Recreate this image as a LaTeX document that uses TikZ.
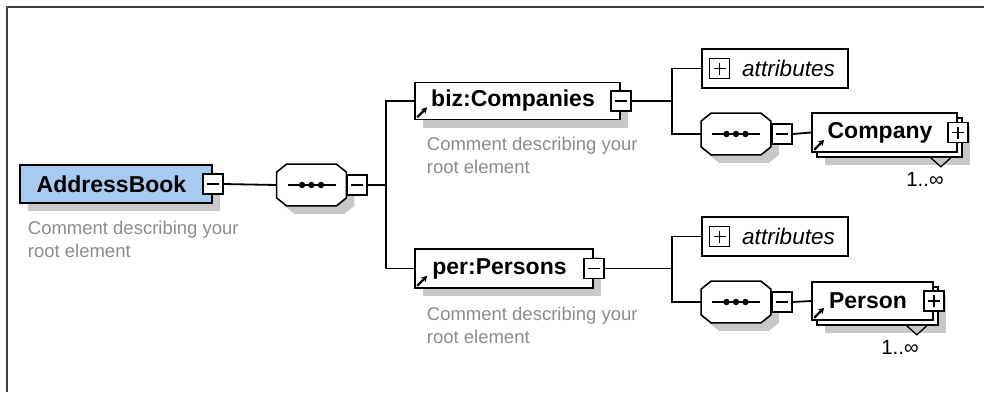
\documentclass[tikz,border=0pt]{standalone}
\usepackage{fontspec}
\setmainfont{Liberation Sans}
\usetikzlibrary{arrows.meta, shadows}
\definecolor{rootblue}{HTML}{A6CAF0}
\definecolor{cmtgray}{HTML}{8C8C8C}
\definecolor{shdgray}{HTML}{C8C8C8}
\tikzset{
  xsd/.style={x=1pt, y=-1pt, line width=1.8pt, draw=black,
              >={Stealth[length=7pt, width=7pt]}},
  elm/.style={draw=black, line width=1.6pt, fill=white, inner sep=0pt,
              minimum height=38pt,
              font=\fontsize{23}{26}\selectfont\bfseries},
  shd/.style={drop shadow={shadow xshift=8pt, shadow yshift=-8pt,
              fill=shdgray, opacity=1}},
  attbox/.style={draw=black, line width=1.6pt, fill=white, inner sep=0pt,
              minimum width=146pt, minimum height=39pt,
              font=\fontsize{22.5}{26}\selectfont\itshape},
  seqbox/.style={inner sep=0pt, minimum width=68pt, minimum height=40pt},
  seqline/.style={draw=black, line width=1.6pt, fill=white},
  seqshd/.style={fill=shdgray},
  tog/.style={draw=black, line width=1.6pt, fill=white, inner sep=0pt,
              minimum size=20pt,
              path picture={
                \draw[line width=1.4pt] ([xshift=-6pt]path picture bounding box.center)
                  -- ([xshift=6pt]path picture bounding box.center);
              }},
  togplus/.style={draw=black, line width=1.6pt, fill=white, inner sep=0pt,
              minimum size=20pt,
              path picture={
                \draw[line width=1.4pt] ([xshift=-6pt]path picture bounding box.center)
                  -- ([xshift=6pt]path picture bounding box.center);
                \draw[line width=1.4pt] ([yshift=-6pt]path picture bounding box.center)
                  -- ([yshift=6pt]path picture bounding box.center);
              }},
  cmt/.style={font=\fontsize{18.5}{23}\selectfont, text=cmtgray, align=left,
              inner sep=0pt, anchor=north west},
  occ/.style={font=\fontsize{20.5}{22}\selectfont, inner sep=0pt},
  refar/.style={-{Stealth[length=6pt, width=6.5pt]}, line width=2.3pt, draw=black},
  occmark/.style={line width=1.3pt, draw=black, fill=shdgray},
  frame/.style={line width=2.5pt, draw=black!75}
}

\begin{document}
\begin{tikzpicture}[xsd]
    \useasboundingbox (0,0) rectangle (984,392);
    \draw[frame] (984,7) -- (7,7) -- (7,392);

    % sequence compositors
    \node[seqbox] (seq1) at (311.5,185) {};
    \node[seqbox] (seq2) at (736,134) {};
    \node[seqbox] (seq3) at (736,302) {};
    \foreach \s in {seq1, seq2, seq3} {
      \foreach \o/\sty in {8/seqshd, 0/seqline}
        \path[\sty] ([shift={(10+\o,\o)}]\s.north west) -- ([shift={(-10+\o,\o)}]\s.north east)
          -- ([shift={(\o,8+\o)}]\s.north east) -- ([shift={(\o,-8+\o)}]\s.south east)
          -- ([shift={(-10+\o,\o)}]\s.south east) -- ([shift={(10+\o,\o)}]\s.south west)
          -- ([shift={(\o,-8+\o)}]\s.south west) -- ([shift={(\o,8+\o)}]\s.north west) -- cycle;
      \draw[line width=1.4pt, draw=black] ([xshift=-24pt]\s.center) -- ([xshift=24pt]\s.center);
      \foreach \d in {-9.5, 0, 9.5}
        \fill ([xshift=\d pt]\s.center) circle (3.2);
    }
    \node[tog, anchor=west] (seq1tog) at (seq1.east) {};
    \node[tog, anchor=west] (seq2tog) at (seq2.east) {};
    \node[tog, anchor=west] (seq3tog) at (seq3.east) {};

    % root element
    \node[elm, shd, fill=rootblue, minimum width=192pt] (ab) at (116,184)
         {AddressBook\hspace*{9pt}};
    \node[tog] (abtog) at (ab.east) {};
    \node[cmt] (abcmt) at (27,220) {Comment describing your\\root element};
    \coordinate (fork1) at (386,185);

    % biz:Companies
    \node[elm, shd, minimum width=205pt, minimum height=37pt] (biz) at (517.5,101)
         {biz:Companies\hspace*{9pt}};
    \node[tog] (biztog) at (biz.east) {};
    \node[cmt] (bizcmt) at (426,136) {Comment describing your\\root element};
    \coordinate (fork2) at (672,101);

    \node[attbox] (att1) at (775,68.5) {\hspace*{27pt}attributes};
    \node[togplus] (att1tog) at (719.5,68.5) {};
    \node[elm, shd, minimum width=145pt, minimum height=39pt] (compback) at (889.5,137.5) {};
    \node[elm, minimum width=145pt, minimum height=39pt] (comp) at (884.5,132.5)
         {Company\hspace*{9pt}};
    \node[togplus] (comptog) at (comp.east) {};
    \draw[occmark] ([xshift=-32pt]compback.south east) -- ++(10,9) -- ++(10,-9);
    \node[occ] (compocc) at (925,179) {1..∞};

    % per:Persons
    \node[elm, shd, minimum width=178pt, minimum height=39pt] (per) at (504,268.5)
         {per:Persons\hspace*{9pt}};
    \node[tog] (pertog) at (per.east) {};
    \node[cmt] (percmt) at (426,306) {Comment describing your\\root element};
    \coordinate (fork3) at (672,268.5);

    \node[attbox] (att2) at (775,236.5) {\hspace*{27pt}attributes};
    \node[togplus] (att2tog) at (719.5,236.5) {};
    \node[elm, shd, minimum width=121pt, minimum height=38pt] (persback) at (877.5,306) {};
    \node[elm, minimum width=121pt, minimum height=38pt] (pers) at (872.5,301)
         {Person\hspace*{9pt}};
    \node[togplus] (perstog) at (pers.east) {};
    \draw[occmark] ([xshift=-32pt]persback.south east) -- ++(10,9) -- ++(10,-9);
    \node[occ] (persocc) at (900,347) {1..∞};

    % reference arrows
    \foreach \n in {biz, per, comp, pers}
      \draw[refar] ([shift={(3,-3)}]\n.south west) -- ++(10,-10);

    % connectors
    \draw (abtog.east) -- (seq1.west);
    \draw (seq1tog.east) -- (fork1);
    \draw (fork1) |- (biz.west);
    \draw (fork1) |- (per.west);
    \draw (biztog.east) -- (fork2);
    \draw (fork2) |- (att1.west);
    \draw (fork2) |- (seq2.west);
    \draw (seq2tog.east) -- (comp.west);
    \draw (pertog.east) -- (fork3);
    \draw (fork3) |- (att2.west);
    \draw (fork3) |- (seq3.west);
    \draw (seq3tog.east) -- (pers.west);
\end{tikzpicture}
\end{document}
